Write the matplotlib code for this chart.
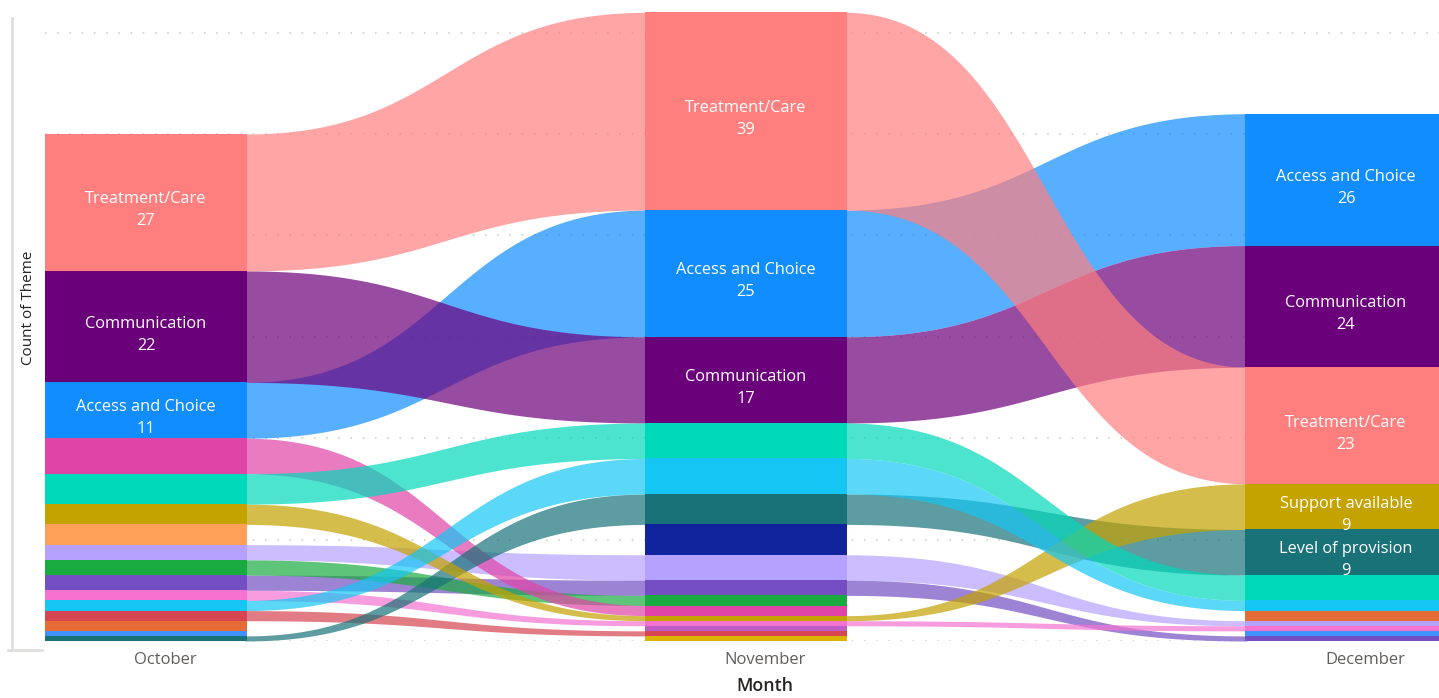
import numpy as np
import matplotlib
matplotlib.use("Agg")
import matplotlib.pyplot as plt
from matplotlib.lines import Line2D

# ---------------- data ----------------
months = ["October", "November", "December"]

# category names (only the labelled ones are visible in the chart)
categories = [
    "Access and Choice", "Communication", "Treatment/Care",
    "Theme 19", "Theme 8", "Theme 15", "Theme 17", "Theme 16", "Theme 13",
    "Theme 9", "Theme 18", "Theme 10", "Theme 12", "Theme 14", "Theme 6",
    "Level of provision", "Support available", "Theme 7", "Theme 4",
]
# counts per month (October, November, December); 0 = not present
counts = {
    "Treatment/Care":     [27, 39, 23],
    "Communication":      [22, 17, 24],
    "Access and Choice":  [11, 25, 26],
    "Theme 4":            [6, 7, 5],
    "Support available":  [4, 1, 9],
    "Theme 8":            [4, 0, 0],
    "Theme 9":            [3, 5, 1],
    "Theme 10":           [3, 2, 0],
    "Theme 6":            [7, 2, 0],
    "Theme 12":           [2, 1, 1],
    "Theme 13":           [0, 1, 0],
    "Theme 7":            [2, 7, 2],
    "Theme 14":           [2, 1, 0],
    "Theme 15":           [2, 0, 2],
    "Theme 16":           [0, 1, 0],
    "Theme 17":           [1, 0, 1],
    "Theme 18":           [3, 3, 1],
    "Level of provision": [1, 6, 9],
    "Theme 19":           [0, 6, 0],
}
colors = {
    "Treatment/Care": "#FF7F7F",
    "Communication": "#6B007B",
    "Access and Choice": "#118DFF",
    "Theme 4": "#01D9BB",
    "Support available": "#C4A200",
    "Theme 8": "#FFA058",
    "Theme 9": "#B5A1FF",
    "Theme 10": "#1AAB40",
    "Theme 6": "#E044A7",
    "Theme 12": "#F472D0",
    "Theme 13": "#BE5DC9",
    "Theme 7": "#15C6F4",
    "Theme 14": "#D64550",
    "Theme 15": "#E66C37",
    "Theme 16": "#D9B300",
    "Theme 17": "#4092FF",
    "Theme 18": "#744EC2",
    "Level of provision": "#197278",
    "Theme 19": "#12239E",
}
# order used to break ties when stacking equal values
tie_order = [
    "Treatment/Care", "Communication", "Access and Choice", "Theme 4",
    "Support available", "Theme 8", "Theme 9", "Theme 10", "Theme 6",
    "Theme 12", "Theme 13", "Theme 7", "Theme 14", "Theme 15", "Theme 16",
    "Theme 17", "Theme 18", "Level of provision", "Theme 19",
]
label_min = 8
grid_values = [0, 20, 40, 60, 80, 100, 120]

# ---------------- figure ----------------
W, H = 1439, 698
fig = plt.figure(figsize=(W / 100, H / 100), dpi=100)
ax_left_px, ax_right_px, ax_top_px, ax_bot_px = 45, 1439, 5, 641
ax = fig.add_axes([ax_left_px / W, (H - ax_bot_px) / H,
                   (ax_right_px - ax_left_px) / W, (ax_bot_px - ax_top_px) / H])

px_per_cat = 600.0
hw = 101 / px_per_cat          # half bar width in category units
overlap = 2 / px_per_cat       # ribbons tuck slightly under the bars
px_per_unit = 5.07
ax.set_xlim((ax_left_px - 146) / px_per_cat, (ax_right_px - 146) / px_per_cat)
ax.set_ylim(0, (ax_bot_px - ax_top_px) / px_per_unit)

# stacking positions
stack = []
for m in range(len(months)):
    present = [c for c in tie_order if counts[c][m] > 0]
    present.sort(key=lambda c: (-counts[c][m], tie_order.index(c)))
    total = sum(counts[c][m] for c in present)
    pos = {}
    top = total
    for c in present:
        v = counts[c][m]
        pos[c] = (top - v, top)
        top -= v
    stack.append(pos)

# grid
for g in grid_values:
    ax.axhline(g, color="#C8C6C4", lw=1.1, linestyle=(0, (1, 7)), zorder=0)

# ribbons
s = np.linspace(0, 1, 240)
for m in range(len(months) - 1):
    x0, x1 = m + hw - overlap, m + 1 - hw + overlap
    xm = (x0 + x1) / 2
    xs = x0 * (1 - s) ** 3 + 3 * xm * s * (1 - s) ** 2 + 3 * xm * s ** 2 * (1 - s) + x1 * s ** 3
    f = 3 * s ** 2 - 2 * s ** 3
    for z, c in enumerate(categories):
        if c in stack[m] and c in stack[m + 1]:
            b0, t0 = stack[m][c]
            b1, t1 = stack[m + 1][c]
            yb = b0 + (b1 - b0) * f
            yt = t0 + (t1 - t0) * f
            ax.fill_between(xs, yb, yt, color=colors[c], alpha=0.7,
                            linewidth=0, zorder=1 + z * 0.01)

# bars + labels
for m in range(len(months)):
    for c, (b, t) in stack[m].items():
        ax.bar(m, t - b, bottom=b, width=2 * hw, color=colors[c],
               linewidth=0, zorder=3)
        if counts[c][m] >= label_min:
            yc = (b + t) / 2
            ax.annotate(c, (m, yc), xytext=(0, 3), textcoords="offset pixels",
                        ha="center", va="center", color="white",
                        fontsize=11.8, family="Open Sans", zorder=5)
            ax.annotate(str(counts[c][m]), (m, yc), xytext=(0, -19),
                        textcoords="offset pixels", ha="center", va="center",
                        color="white", fontsize=11.8, family="Open Sans", zorder=5)

# axes styling
for sp in ax.spines.values():
    sp.set_visible(False)
ax.set_yticks([])
ax.set_xticks([i + 0.032 for i in range(len(months))])
ax.set_xticklabels(months, fontsize=12, color="#605E5C", family="Open Sans")
ax.tick_params(axis="x", length=0, pad=8)

fig.text(765 / W, 1 - 686 / H, "Month", ha="center", va="center",
         fontsize=12.8, color="#252423", family="Open Sans", fontweight="semibold")
fig.text(29 / W, 1 - 308 / H, "Count of Theme", ha="center", va="center",
         rotation=90, fontsize=11, color="#252423", family="Open Sans")

# left border of the visual
fig.add_artist(Line2D([12 / W, 12 / W], [1 - 18 / H, 1 - 650 / H],
                      color="#E1DFDD", lw=2))
fig.add_artist(Line2D([8 / W, 42 / W], [1 - 650 / H, 1 - 650 / H],
                      color="#E1DFDD", lw=2))

fig.savefig("out.png", dpi=100)
